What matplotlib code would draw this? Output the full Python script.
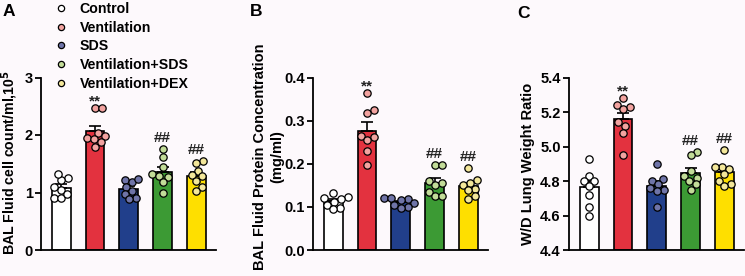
import numpy as np
import matplotlib
matplotlib.use("Agg")
import matplotlib.pyplot as plt
from matplotlib.lines import Line2D

plt.rcParams['font.family'] = ['Liberation Sans', 'DejaVu Sans']
plt.rcParams['font.weight'] = 'bold'

groups = ["Control", "Ventilation", "SDS", "Ventilation+SDS", "Ventilation+DEX"]
bar_colors = ["#ffffff", "#e3323f", "#213f8b", "#3c9a34", "#fedf00"]
dot_colors = ["#ffffff", "#f2a3a0", "#6f74a8", "#c2dc98", "#f3e79a"]
sig_labels = ["", "**", "", "##", "##"]

# Panel A: BAL fluid cell count (x10^5 / ml)
cells = [
    [1.25, 1.21, 1.32, 1.05, 1.09, 0.90, 0.90, 0.97],
    [2.47, 2.47, 2.03, 1.98, 1.95, 1.93, 1.88, 1.80],
    [1.22, 1.18, 1.24, 1.10, 1.02, 0.98, 0.90, 0.88],
    [1.76, 1.62, 1.45, 1.33, 1.28, 1.27, 1.18, 1.00],
    [1.55, 1.52, 1.38, 1.30, 1.28, 1.20, 1.10, 1.02],
]
# Panel B: BAL fluid protein concentration (mg/ml)
protein = [
    [0.133, 0.123, 0.120, 0.118, 0.112, 0.105, 0.097, 0.095],
    [0.363, 0.325, 0.318, 0.265, 0.262, 0.255, 0.230, 0.198],
    [0.121, 0.120, 0.118, 0.115, 0.108, 0.105, 0.100, 0.098],
    [0.198, 0.198, 0.160, 0.155, 0.150, 0.135, 0.125, 0.125],
    [0.190, 0.162, 0.155, 0.150, 0.142, 0.138, 0.125, 0.118],
]
# Panel C: W/D lung weight ratio
wd = [
    [4.93, 4.83, 4.80, 4.80, 4.77, 4.72, 4.65, 4.60],
    [5.28, 5.24, 5.23, 5.22, 5.14, 5.12, 5.08, 4.95],
    [4.90, 4.81, 4.80, 4.78, 4.76, 4.75, 4.74, 4.65],
    [4.97, 4.95, 4.86, 4.83, 4.82, 4.80, 4.78, 4.75],
    [4.98, 4.88, 4.88, 4.87, 4.84, 4.80, 4.78, 4.77],
]

panels = [
    dict(data=cells, ylim=(0, 3), ticks=[0, 1, 2, 3], fmt="{:.0f}",
         ylabel="BAL Fluid cell count/ml,10$^{\\mathbf{5}}$", letter="A"),
    dict(data=protein, ylim=(0, 0.4), ticks=[0.0, 0.1, 0.2, 0.3, 0.4], fmt="{:.1f}",
         ylabel="BAL Fluid Protein Concentration\n(mg/ml)", letter="B"),
    dict(data=wd, ylim=(4.4, 5.4), ticks=[4.4, 4.6, 4.8, 5.0, 5.2, 5.4], fmt="{:.1f}",
         ylabel="W/D Lung Weight Ratio", letter="C"),
]

W, H = 745, 276
bg = "#fdf9fc"
fig = plt.figure(figsize=(W / 100, H / 100), dpi=100, facecolor=bg)

lefts_px = [41, 313, 569]
label_right_px = [20, 284, 535]
label_cy = [0.51, 0.54, 0.5]
label_size = [10.2, 10.5, 10.6]
letter_px = [(3, 11), (250, 11), (517, 13)]
width_px = 174.5
top_px, bot_px = 77.5, 250
sig_offset = {"**": 1.8, "##": 4.8}

def swarm(ax, x0, ys, diam_px):
    trans = ax.transData
    pts = np.array([trans.transform((x0, y)) for y in ys])
    order = np.argsort(pts[:, 1])
    placed = []
    xs_pix = np.zeros(len(ys))
    cands = [0.0]
    for k in range(1, 60):
        cands += [k * 0.5, -k * 0.5]
    for i in order:
        px, py = pts[i]
        for c in cands:
            ok = True
            for (qx, qy) in placed:
                if (px + c - qx) ** 2 + (py - qy) ** 2 < diam_px ** 2:
                    ok = False
                    break
            if ok:
                break
        placed.append((px + c, py))
        xs_pix[i] = px + c
    inv = trans.inverted()
    return np.array([inv.transform((xp, pts[0][1]))[0] for xp in xs_pix])

for p, panel in enumerate(panels):
    ax = fig.add_axes([lefts_px[p] / W, 1 - bot_px / H, width_px / W, (bot_px - top_px) / H])
    ax.set_facecolor(bg)
    x = np.arange(len(groups))
    vals = [np.array(v) for v in panel["data"]]
    means = np.array([v.mean() for v in vals])
    sems = np.array([v.std(ddof=1) / np.sqrt(len(v)) for v in vals])
    base = panel["ylim"][0]
    ax.bar(x, means - base, bottom=base, width=0.56, color=bar_colors,
           edgecolor="black", linewidth=1.2, zorder=2)
    ax.errorbar(x, means, yerr=[np.zeros_like(sems), sems], fmt="none",
                ecolor="black", elinewidth=1.2, capsize=4, capthick=1.2, zorder=3)
    ax.set_xlim(-0.6, 4.57)
    ax.set_ylim(*panel["ylim"])
    for i, v in enumerate(vals):
        xs = swarm(ax, x[i], v, 7.0)
        ax.scatter(xs, v, s=28, facecolor=dot_colors[i], edgecolor="black",
                   linewidth=0.9, zorder=4, clip_on=False)
        if sig_labels[i]:
            ax.annotate(sig_labels[i], (x[i], v.max()),
                        xytext=(0, sig_offset[sig_labels[i]]),
                        textcoords="offset points", ha="center", va="baseline",
                        fontsize=11, fontweight="bold", color="#222222")
    for s in ["top", "right"]:
        ax.spines[s].set_visible(False)
    for s in ["left", "bottom"]:
        ax.spines[s].set_linewidth(1.3)
    ax.set_xticks([])
    ax.set_yticks(panel["ticks"])
    ax.set_yticklabels([panel["fmt"].format(t) for t in panel["ticks"]],
                       fontsize=10.5, fontweight="bold")
    ax.tick_params(axis="y", length=4, width=1.3, pad=2)
    ax.set_ylabel(panel["ylabel"], fontsize=label_size[p], fontweight="bold", linespacing=1.3)
    ax.yaxis.set_label_coords((label_right_px[p] - lefts_px[p]) / width_px, label_cy[p])
    lx, ly = letter_px[p]
    fig.text(lx / W, 1 - ly / H, panel["letter"], fontsize=12.5, fontweight="bold",
             ha="left", va="center")

handles = [Line2D([], [], marker="o", linestyle="none", markersize=4.5,
                  markerfacecolor=c, markeredgecolor="black", markeredgewidth=0.9)
           for c in dot_colors]
fig.legend(handles, groups, loc="upper left", bbox_to_anchor=(47 / W, 1 + 5 / H),
           frameon=False, prop={"weight": "bold", "size": 10.2}, handletextpad=0.8,
           labelspacing=0.33, handlelength=1.0, borderpad=0.0)

fig.savefig("out.png", dpi=100, facecolor=bg)
